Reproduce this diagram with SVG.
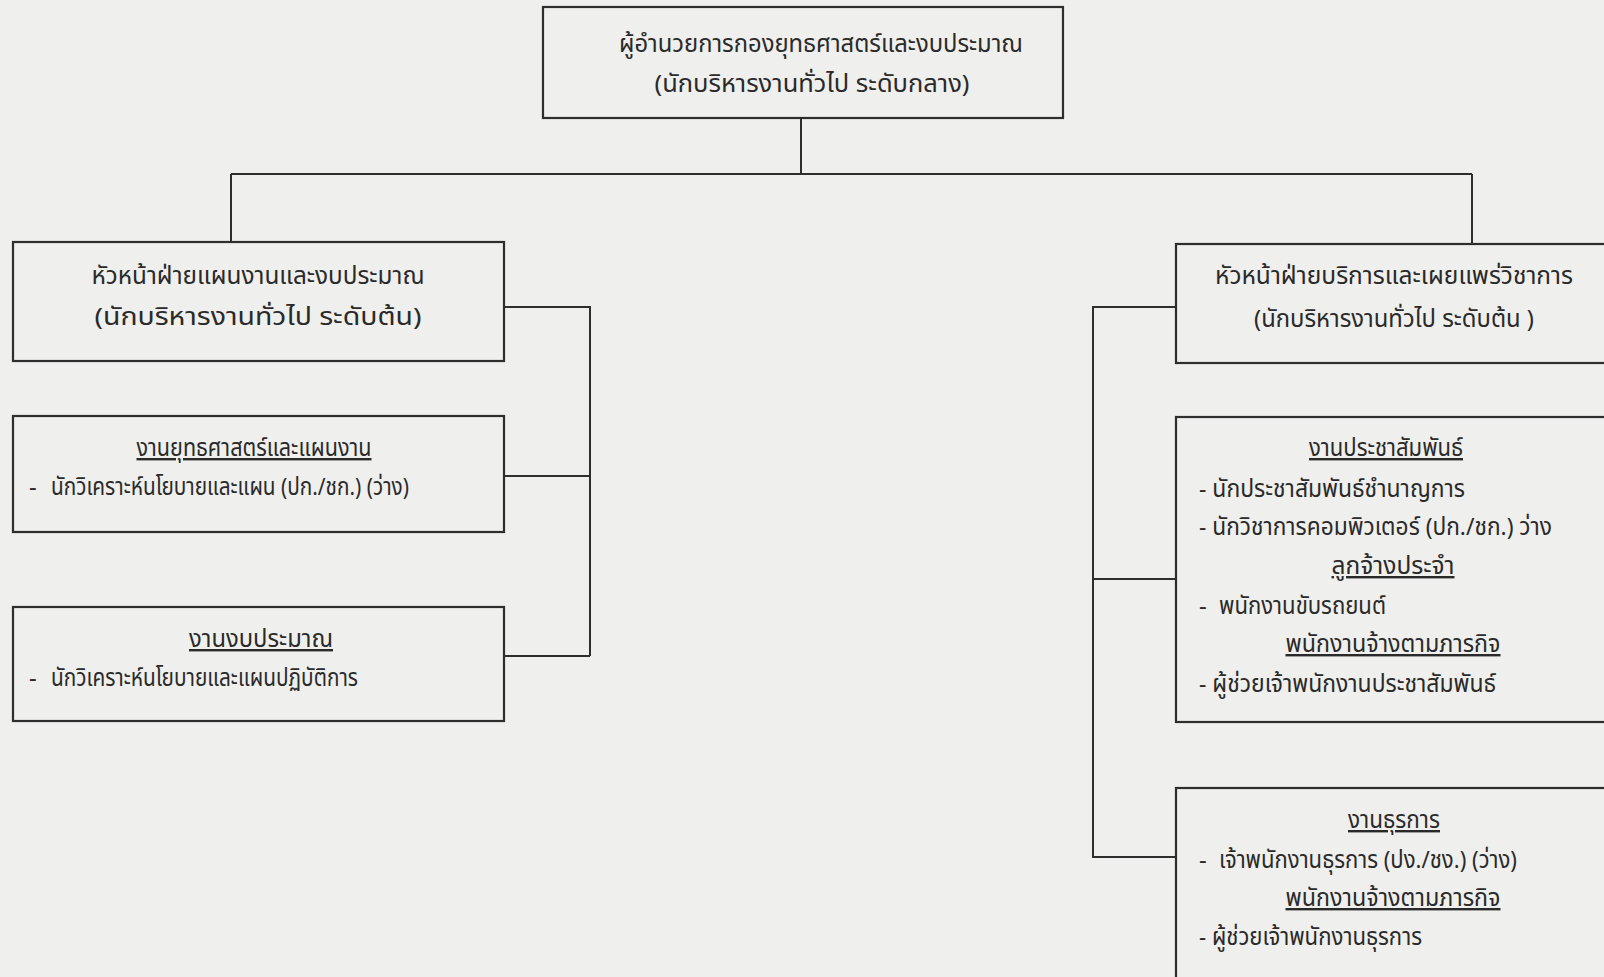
<svg xmlns="http://www.w3.org/2000/svg" width="1604" height="977" viewBox="0 0 1604 977">
<style>
.bg{fill:#efefed}
.box{fill:none;stroke:#2e2e2e;stroke-width:2.2}
.ln{fill:none;stroke:#2e2e2e;stroke-width:2}
text{font-family:"Noto Sans Thai","Noto Sans","Liberation Sans",sans-serif;font-size:24px;fill:#2a2a2a}
.c{text-anchor:middle}
.u{text-decoration:underline}
</style>
<rect class="bg" x="0" y="0" width="1604" height="977"/>
<g id="connectors">
<path class="ln" d="M801 118 V174 M231 174 H1472 M231 174 V242 M1472 174 V244"/>
<path class="ln" d="M504 307 H590 V656 M504 476 H590 M504 656 H590"/>
<path class="ln" d="M1176 307 H1093 V857 H1176 M1093 579 H1176"/>
</g>
<g id="director">
<rect class="box" x="543" y="7" width="520" height="111"/>
<text class="c" x="821" y="52" textLength="404" lengthAdjust="spacingAndGlyphs">ผู้อำนวยการกองยุทธศาสตร์และงบประมาณ</text>
<text class="c" x="812" y="92" textLength="315" lengthAdjust="spacingAndGlyphs">(นักบริหารงานทั่วไป ระดับกลาง)</text>
</g>
<g id="plan-head">
<rect class="box" x="13" y="242" width="491" height="119"/>
<text class="c" x="258" y="284" textLength="333" lengthAdjust="spacingAndGlyphs">หัวหน้าฝ่ายแผนงานและงบประมาณ</text>
<text class="c" x="258" y="325" textLength="327" lengthAdjust="spacingAndGlyphs">(นักบริหารงานทั่วไป ระดับต้น)</text>
</g>
<g id="strategy">
<rect class="box" x="13" y="416" width="491" height="116"/>
<text class="c u" x="254" y="456" textLength="235" lengthAdjust="spacingAndGlyphs">งานยุทธศาสตร์และแผนงาน</text>
<text x="29" y="495">-</text>
<text x="51" y="495" textLength="358" lengthAdjust="spacingAndGlyphs">นักวิเคราะห์นโยบายและแผน (ปก./ชก.) (ว่าง)</text>
</g>
<g id="budget">
<rect class="box" x="13" y="607" width="491" height="114"/>
<text class="c u" x="261" y="647" textLength="144" lengthAdjust="spacingAndGlyphs">งานงบประมาณ</text>
<text x="29" y="686">-</text>
<text x="51" y="686" textLength="307" lengthAdjust="spacingAndGlyphs">นักวิเคราะห์นโยบายและแผนปฏิบัติการ</text>
</g>
<g id="service-head">
<rect class="box" x="1176" y="244" width="440" height="119"/>
<text class="c" x="1394" y="284" textLength="358" lengthAdjust="spacingAndGlyphs">หัวหน้าฝ่ายบริการและเผยแพร่วิชาการ</text>
<text class="c" x="1394" y="327" textLength="280" lengthAdjust="spacingAndGlyphs">(นักบริหารงานทั่วไป ระดับต้น )</text>
</g>
<g id="pr">
<rect class="box" x="1176" y="417" width="440" height="305"/>
<text class="c u" x="1386" y="456" textLength="154" lengthAdjust="spacingAndGlyphs">งานประชาสัมพันธ์</text>
<text x="1199" y="497" textLength="266" lengthAdjust="spacingAndGlyphs">- นักประชาสัมพันธ์ชำนาญการ</text>
<text x="1199" y="535" textLength="353" lengthAdjust="spacingAndGlyphs">- นักวิชาการคอมพิวเตอร์ (ปก./ชก.) ว่าง</text>
<text class="c u" x="1393" y="574" textLength="123" lengthAdjust="spacingAndGlyphs">ลูกจ้างประจำ</text>
<text x="1199" y="614">-</text>
<text x="1219" y="614" textLength="167" lengthAdjust="spacingAndGlyphs">พนักงานขับรถยนต์</text>
<text class="c u" x="1393" y="652" textLength="215" lengthAdjust="spacingAndGlyphs">พนักงานจ้างตามภารกิจ</text>
<text x="1199" y="692" textLength="297" lengthAdjust="spacingAndGlyphs">- ผู้ช่วยเจ้าพนักงานประชาสัมพันธ์</text>
</g>
<g id="admin">
<rect class="box" x="1176" y="788" width="440" height="200"/>
<text class="c u" x="1394" y="828" textLength="92" lengthAdjust="spacingAndGlyphs">งานธุรการ</text>
<text x="1199" y="868">-</text>
<text x="1219" y="868" textLength="298" lengthAdjust="spacingAndGlyphs">เจ้าพนักงานธุรการ (ปง./ชง.) (ว่าง)</text>
<text class="c u" x="1393" y="906" textLength="215" lengthAdjust="spacingAndGlyphs">พนักงานจ้างตามภารกิจ</text>
<text x="1199" y="945" textLength="223" lengthAdjust="spacingAndGlyphs">- ผู้ช่วยเจ้าพนักงานธุรการ</text>
</g>
</svg>
